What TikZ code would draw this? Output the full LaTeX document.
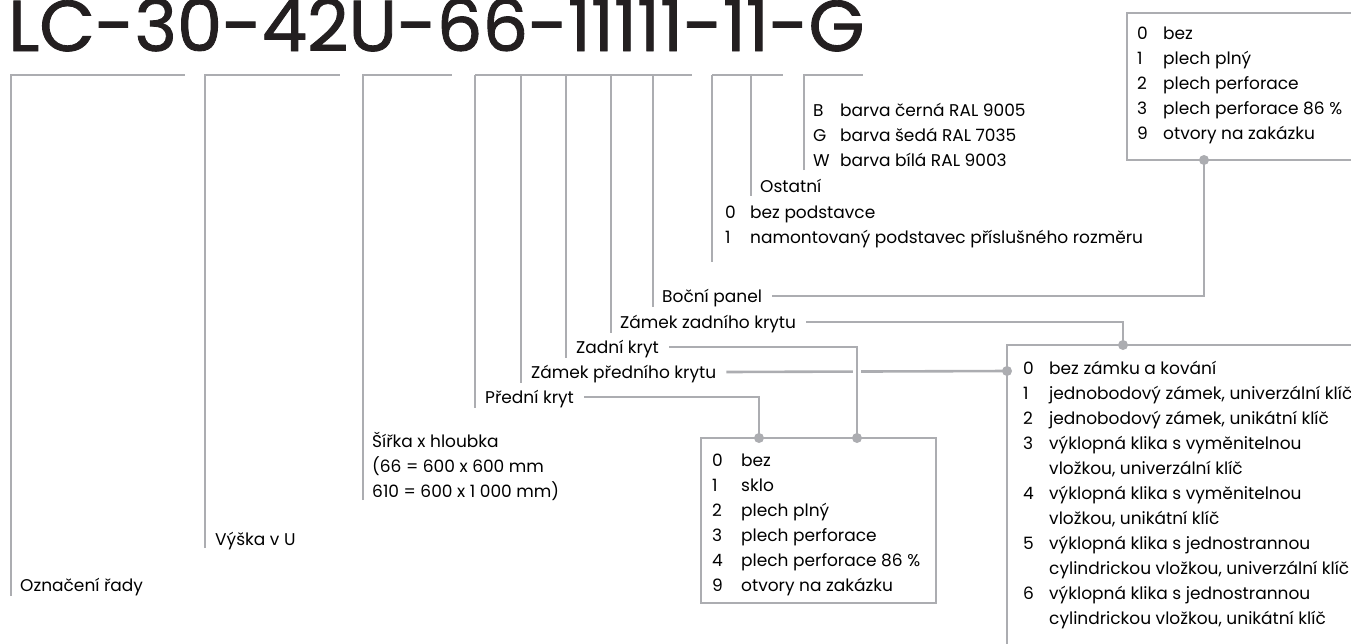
\documentclass[tikz,border=0pt]{standalone}
\usepackage{fontspec}
\setmainfont{Poppins}
\newfontfamily\titlefont[FakeBold=1.2]{Poppins}
\usetikzlibrary{positioning, calc}
\definecolor{linegray}{RGB}{172,173,177}
\definecolor{titleblack}{RGB}{35,31,32}
\newcommand{\opt}[3][26pt]{\makebox[#1][l]{#2}#3}

\begin{document}
\begin{tikzpicture}[x=1pt, y=-1pt,
    gline/.style={draw=linegray, line width=2.6pt},
    boxline/.style={draw=linegray, line width=1.5pt},
    lbl/.style={anchor=base west, inner sep=0pt, font=\fontsize{17}{25}\selectfont, text height=12pt, text depth=0pt},
    listnode/.style={anchor=base west, inner sep=0pt, align=left, font=\fontsize{17}{25}\selectfont},
    titlenode/.style={anchor=base west, inner sep=0pt, font=\titlefont\fontsize{72}{72}\selectfont, text=titleblack}
]
    \useasboundingbox (0,0) rectangle (1351,643);

    % Title
    \node (title) [titlenode] at (8,51) {LC-30-42U-66-11111-11-G};

    % Brackets under the code
    \draw [gline] (11,596) -- (11,75) -- (185,75);
    \draw [gline] (205,548) -- (205,75) -- (340,75);
    \draw [gline] (363,500) -- (363,75) -- (452,75);
    \draw [gline] (475,75) -- (692,75);
    \draw [gline] (712,75) -- (783,75);
    \draw [gline] (804,170) -- (804,75) -- (863,75);

    % Labels of the left part (list nodes are placed by their last baseline)
    \node (rada) [lbl] at (20,591) {Označení řady};
    \node (vyska) [lbl] at (215,545) {Výška v U};
    \node (sirka) [listnode] at (372,497) {Šířka x hloubka\\(66 = 600 x 600 mm\\610 = 600 x 1 000 mm)};

    % Labels of the options
    \node (predni) [lbl] at (485,403) {Přední kryt};
    \node (zpredni) [lbl] at (531,378) {Zámek předního krytu};
    \node (zadni) [lbl] at (576,353) {Zadní kryt};
    \node (zzadni) [lbl] at (620,328) {Zámek zadního krytu};
    \node (bocni) [lbl] at (662,302) {Boční panel};
    \draw [gline] (475,75) -- ([xshift=-10pt,yshift=-5pt]predni.base west);
    \draw [gline] (521,75) -- ([xshift=-10pt,yshift=-5pt]zpredni.base west);
    \draw [gline] (566,75) -- ([xshift=-10pt,yshift=-5pt]zadni.base west);
    \draw [gline] (611,75) -- ([xshift=-9pt,yshift=-5pt]zzadni.base west);
    \draw [gline] (653,75) -- ([xshift=-9pt,yshift=-5pt]bocni.base west);

    % Ostatni and podstavec
    \node (ostatni) [lbl] at (760,192) {Ostatní};
    \node (podstavec) [listnode] at (725,243) {\opt[25pt]{0}{bez podstavce}\\\opt[25pt]{1}{namontovaný podstavec příslušného rozměru}};
    \draw [gline] (751,75) -- ([xshift=-9pt,yshift=-4pt]ostatni.base west);
    \draw [gline] (712,75) -- ([xshift=-13pt,yshift=-19pt]podstavec.base west);

    % Colours
    \node (barva) [listnode] at (813,166) {\opt[27pt]{B}{barva černá RAL 9005}\\\opt[27pt]{G}{barva šedá RAL 7035}\\\opt[27pt]{W}{barva bílá RAL 9003}};

    % Junction points on the boxes
    \coordinate (dotA) at (759,438);
    \coordinate (dotB) at (857,438);
    \coordinate (dotL) at (1007,371);
    \coordinate (dotC) at (1123,345);
    \coordinate (dotD) at (1204,160);

    % Connectors
    \draw [gline] ([xshift=10pt]predni.east) -| (dotA);
    \draw [gline] ([xshift=10pt]zpredni.east) -- (dotL);
    \draw [gline, preaction={draw=white, line width=8pt}] ([xshift=10pt]zadni.east) -| (dotB);
    \draw [gline] ([xshift=10pt]zzadni.east) -| (dotC);
    \draw [gline] ([xshift=10pt]bocni.east) -| (dotD);

    % Option boxes
    \draw [boxline] (701,438) rectangle (936,603);
    \node (kryty) [listnode] at (712,591) {\opt[29pt]{0}{bez}\\\opt[29pt]{1}{sklo}\\\opt[29pt]{2}{plech plný}\\\opt[29pt]{3}{plech perforace}\\\opt[29pt]{4}{plech perforace 86 \%}\\\opt[29pt]{9}{otvory na zakázku}};

    \draw [boxline] (1360,345) -- (1007,345) -- (1007,650);
    \node (zamky) [listnode] at (1023,624) {\opt{0}{bez zámku a kování}\\\opt{1}{jednobodový zámek, univerzální klíč}\\\opt{2}{jednobodový zámek, unikátní klíč}\\\opt{3}{výklopná klika s vyměnitelnou}\\\opt{}{vložkou, univerzální klíč}\\\opt{4}{výklopná klika s vyměnitelnou}\\\opt{}{vložkou, unikátní klíč}\\\opt{5}{výklopná klika s jednostrannou}\\\opt{}{cylindrickou vložkou, univerzální klíč}\\\opt{6}{výklopná klika s jednostrannou}\\\opt{}{cylindrickou vložkou, unikátní klíč}};

    \draw [boxline] (1360,13) -- (1127,13) -- (1127,160) -- (1360,160);
    \node (panely) [listnode] at (1137,139) {\opt{0}{bez}\\\opt{1}{plech plný}\\\opt{2}{plech perforace}\\\opt{3}{plech perforace 86 \%}\\\opt{9}{otvory na zakázku}};

    % Dots
    \foreach \d in {dotA, dotB, dotL, dotC, dotD}
        \fill [linegray] (\d) circle (5pt);
\end{tikzpicture}
\end{document}
